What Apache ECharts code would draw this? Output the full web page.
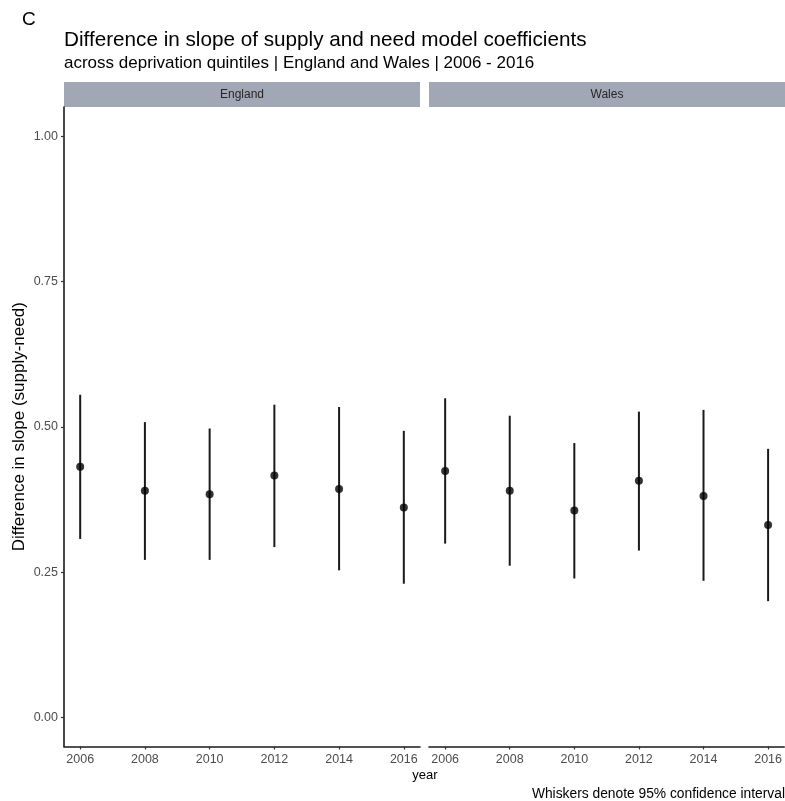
<!DOCTYPE html>
<html>
<head>
<meta charset="utf-8">
<script src="https://cdn.jsdelivr.net/npm/echarts@6/dist/echarts.min.js"></script>
<style>
  html, body { margin: 0; padding: 0; background: #fff; }
  #chart { width: 785px; height: 801px; }
</style>
</head>
<body>
<div id="chart"></div>
<script>
// Years shown on each panel's x axis
const years = [2006, 2008, 2010, 2012, 2014, 2016];
const yTicks = [0, 0.25, 0.5, 0.75, 1];

// Difference in slope (supply - need), with 95% confidence bounds
const englandEst   = [0.431, 0.390, 0.384, 0.416, 0.393, 0.361];
const englandLower = [0.307, 0.271, 0.271, 0.293, 0.253, 0.230];
const englandUpper = [0.555, 0.508, 0.497, 0.538, 0.534, 0.493];

const walesEst   = [0.424, 0.390, 0.356, 0.407, 0.381, 0.331];
const walesLower = [0.299, 0.261, 0.239, 0.287, 0.235, 0.200];
const walesUpper = [0.549, 0.519, 0.472, 0.526, 0.529, 0.462];

const FONT = 'Liberation Sans, Arial, sans-serif';
const chart = echarts.init(document.getElementById('chart'), null, { renderer: 'canvas' });

function xAxisFor(gridIndex) {
  return {
    type: 'value', gridIndex, min: 2005.5, max: 2016.5,
    splitLine: { show: false },
    axisLine: { show: true, onZero: false, lineStyle: { color: '#1a1a1a', width: 1.6 } },
    axisTick: { show: true, customValues: years, length: 3, lineStyle: { color: '#333', width: 1.2 } },
    axisLabel: { customValues: years, color: '#4d4d4d', fontSize: 12.5, fontFamily: FONT, margin: 7,
                 formatter: v => String(v) }
  };
}
function yAxisFor(gridIndex, showAxis) {
  return {
    type: 'value', gridIndex, min: -0.05, max: 1.05,
    splitLine: { show: false },
    axisLine: { show: showAxis, onZero: false, lineStyle: { color: '#1a1a1a', width: 1.6 } },
    axisTick: { show: showAxis, customValues: yTicks, length: 3, lineStyle: { color: '#333', width: 1.2 } },
    axisLabel: { show: showAxis, customValues: yTicks, color: '#4d4d4d', fontSize: 12.5, fontFamily: FONT, margin: 6,
                 formatter: v => v.toFixed(2) },
    name: showAxis ? 'Difference in slope (supply-need)' : '',
    nameLocation: 'middle', nameGap: 36,
    nameTextStyle: { color: '#000', fontSize: 17, fontFamily: FONT }
  };
}

function whiskers(idx, lower, upper) {
  return {
    type: 'custom', xAxisIndex: idx, yAxisIndex: idx,
    data: years.map((y, i) => [y, lower[i], upper[i]]),
    renderItem: (params, api) => {
      const a = api.coord([api.value(0), api.value(1)]);
      const b = api.coord([api.value(0), api.value(2)]);
      return { type: 'line', shape: { x1: a[0], y1: a[1], x2: b[0], y2: b[1] },
               style: { stroke: '#1a1a1a', lineWidth: 2 } };
    },
    z: 2
  };
}
function points(idx, est) {
  return {
    type: 'scatter', xAxisIndex: idx, yAxisIndex: idx,
    data: years.map((y, i) => [y, est[i]]),
    symbol: 'circle', symbolSize: 8,
    itemStyle: { color: '#000' }, z: 3
  };
}

const strips = [
  { left: 64, width: 356, text: 'England' },
  { left: 429, width: 356, text: 'Wales' }
];
const graphic = [];
strips.forEach(s => {
  graphic.push({ type: 'rect', left: s.left, top: 82, shape: { width: s.width, height: 25 },
                 style: { fill: '#a2a7b5' }, silent: true });
  graphic.push({ type: 'text', x: s.left + s.width / 2, y: 94.5,
                 style: { text: s.text, fill: '#262626', fontSize: 12, fontFamily: FONT,
                          align: 'center', verticalAlign: 'middle' } });
});
graphic.push({ type: 'text', x: 22, y: 20, style: { text: 'C', fill: '#000', fontSize: 19, fontFamily: FONT,
               align: 'left', verticalAlign: 'middle' } });
graphic.push({ type: 'text', x: 64, y: 40, style: { text: 'Difference in slope of supply and need model coefficients',
               fill: '#000', fontSize: 20.7, fontFamily: FONT, align: 'left', verticalAlign: 'middle' } });
graphic.push({ type: 'text', x: 64, y: 63, style: { text: 'across deprivation quintiles | England and Wales | 2006 - 2016',
               fill: '#000', fontSize: 17, fontFamily: FONT, align: 'left', verticalAlign: 'middle' } });
graphic.push({ type: 'text', x: 425, y: 775, style: { text: 'year', fill: '#000', fontSize: 13, fontFamily: FONT,
               align: 'center', verticalAlign: 'middle' } });
graphic.push({ type: 'text', x: 785, y: 794, style: { text: 'Whiskers denote 95% confidence interval', fill: '#000',
               fontSize: 13.8, fontFamily: FONT, align: 'right', verticalAlign: 'middle' } });

chart.setOption({
  animation: false,
  backgroundColor: '#fff',
  grid: [
    { left: 64, right: 365, top: 107, bottom: 54.5 },
    { left: 429, right: 0, top: 107, bottom: 54.5 }
  ],
  xAxis: [xAxisFor(0), xAxisFor(1)],
  yAxis: [yAxisFor(0, true), yAxisFor(1, false)],
  series: [
    whiskers(0, englandLower, englandUpper), points(0, englandEst),
    whiskers(1, walesLower, walesUpper), points(1, walesEst)
  ],
  graphic
});
</script>
</body>
</html>
